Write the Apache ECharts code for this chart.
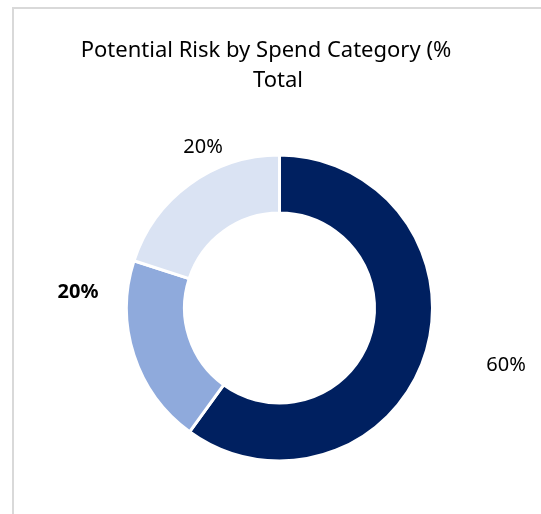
<!DOCTYPE html>
<html>
<head>
<meta charset="utf-8">
<title>Potential Risk by Spend Category</title>
<script src="https://cdn.jsdelivr.net/npm/echarts@6/dist/echarts.min.js"></script>
<style>
  html, body { margin: 0; padding: 0; background: #ffffff; }
  #chart { width: 541px; height: 514px; }
</style>
</head>
<body>
<div id="chart"></div>
<script>
// Spend categories and their share of potential risk (%)
const categories = ['Category A', 'Category B', 'Category C'];
const riskShare = [60, 20, 20];
const sliceColors = ['#002060', '#8FAADC', '#DAE3F3'];

// Chart heading, wrapped over two lines
const titleLines = ['Potential Risk by Spend Category (%', 'Total'];

// Where each percentage label sits, and whether it is bold
const labelSpots = [
  { x: 506, y: 365, bold: false },
  { x: 78, y: 292, bold: true },
  { x: 203, y: 147, bold: false }
];

const titleStyle = {
  fontFamily: 'Noto Sans',
  fontSize: 22,
  fontWeight: 'normal',
  color: '#000000',
  lineHeight: 29
};

const chart = echarts.init(document.getElementById('chart'), null, { renderer: 'canvas' });

chart.setOption({
  animation: false,
  backgroundColor: '#ffffff',
  textStyle: { fontFamily: 'Noto Sans' },
  title: [
    { text: titleLines[0], left: 261, top: 31, textAlign: 'center', textStyle: titleStyle },
    { text: titleLines[1], left: 273, top: 61, textAlign: 'center', textStyle: titleStyle }
  ],
  graphic: [{
    type: 'rect',
    shape: { x: 13, y: 8, width: 700, height: 700 },
    style: { fill: 'none', stroke: '#d9d9d9', lineWidth: 2 },
    silent: true
  }],
  series: [{
    type: 'pie',
    center: [279.5, 308],
    radius: [95, 153],
    startAngle: 90,
    clockwise: true,
    avoidLabelOverlap: false,
    itemStyle: { borderColor: '#ffffff', borderWidth: 3 },
    label: {
      show: true,
      position: 'outside',
      formatter: '{d}%',
      fontFamily: 'Noto Sans',
      fontSize: 20,
      color: '#000000'
    },
    labelLine: { show: false },
    labelLayout: function (params) {
      const spot = labelSpots[params.dataIndex];
      return { x: spot.x, y: spot.y, align: 'center', verticalAlign: 'middle' };
    },
    emphasis: { disabled: true },
    data: categories.map(function (name, i) {
      return {
        name: name,
        value: riskShare[i],
        itemStyle: { color: sliceColors[i] },
        label: { fontWeight: labelSpots[i].bold ? 'bold' : 'normal' }
      };
    })
  }]
});
</script>
</body>
</html>
